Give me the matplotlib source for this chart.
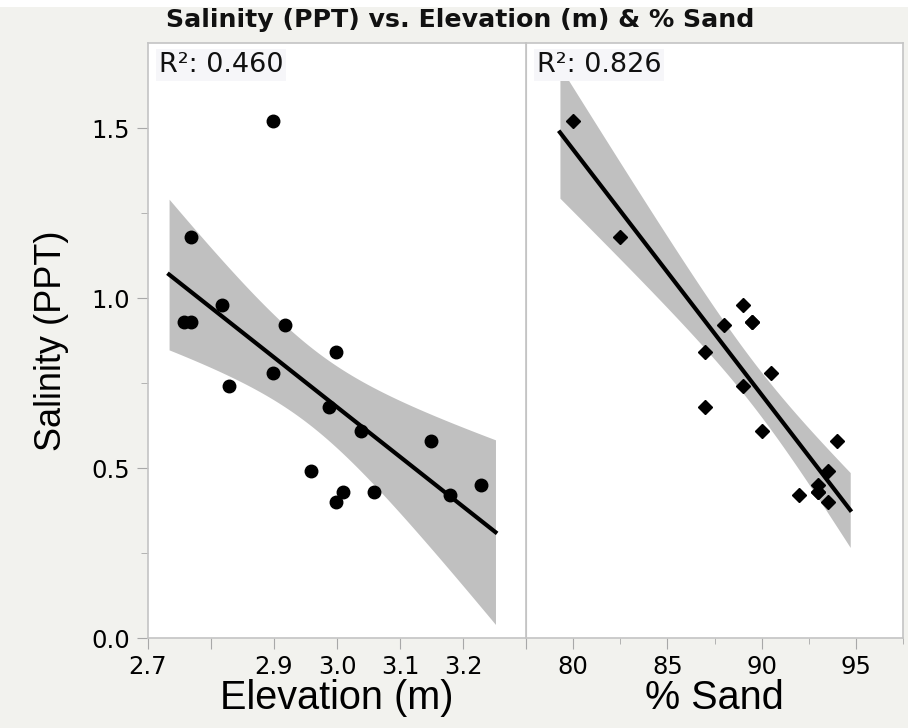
import numpy as np
import matplotlib
matplotlib.use("Agg")
import matplotlib.pyplot as plt
from matplotlib.patches import Rectangle

# --- data (one row per sample) ---
salinity = [1.52, 1.18, 0.98, 0.93, 0.93, 0.92, 0.84, 0.78, 0.74,
            0.68, 0.61, 0.58, 0.49, 0.45, 0.43, 0.43, 0.42, 0.40]
elevation = [2.898, 2.768, 2.818, 2.757, 2.768, 2.918, 2.999, 2.898, 2.828,
             2.988, 3.038, 3.149, 2.958, 3.228, 3.009, 3.059, 3.179, 2.999]
sand = [80.0, 82.5, 89.0, 89.5, 89.5, 88.0, 87.0, 90.5, 89.0,
        87.0, 90.0, 94.0, 93.5, 93.0, 93.0, 93.0, 92.0, 93.5]

r2_labels = ["R²: 0.460", "R²: 0.826"]
x_labels = ["Elevation (m)", "% Sand"]
elev_ticks = [2.7, 2.8, 2.9, 3.0, 3.1, 3.2, 3.3]
elev_ticklabels = ["2.7", "", "2.9", "3.0", "3.1", "3.2", ""]
sand_ticks = [80, 85, 90, 95]

T_CRIT = 2.1199  # t(0.975, df=16)
BG = "#f2f2ee"
BAND = "#c0c0c0"
FRAME = "#c4c4c4"
TICK = "#a8a8a8"

WIDE = ['DejaVu Sans']                   # JMP's Lucida-like labels
NARROW = ['Liberation Sans', 'DejaVu Sans']  # axis titles
plt.rcParams['font.family'] = WIDE


def fit_band(x, y, pad=0.05):
    """Least squares line plus 95% confidence band of the mean."""
    x = np.asarray(x, float)
    y = np.asarray(y, float)
    n = len(x)
    b, a = np.polyfit(x, y, 1)
    s = np.sqrt(np.sum((y - (a + b * x)) ** 2) / (n - 2))
    span = x.max() - x.min()
    xs = np.linspace(x.min() - pad * span, x.max() + pad * span, 200)
    ys = a + b * xs
    se = s * np.sqrt(1 / n + (xs - x.mean()) ** 2 / np.sum((x - x.mean()) ** 2))
    return xs, ys, T_CRIT * se


fig = plt.figure(figsize=(9.08, 7.28), dpi=100, facecolor=BG)
fig.patches.append(Rectangle((0, 1 - 7 / 728), 1, 7 / 728, transform=fig.transFigure,
                             facecolor="white", edgecolor="none", zorder=0))

ax1 = fig.add_axes([148 / 908, 90 / 728, 378 / 908, 595 / 728])
ax2 = fig.add_axes([526 / 908, 90 / 728, 377 / 908, 595 / 728])

panels = [(ax1, elevation, 'o', 9), (ax2, sand, 'D', 7.5)]
for i, (ax, xdata, mk, ms) in enumerate(panels):
    xs, ys, hw = fit_band(xdata, salinity)
    ax.fill_between(xs, ys - hw, ys + hw, color=BAND, lw=0, zorder=1)
    ax.plot(xs, ys, color="black", lw=3, zorder=2)
    ax.plot(xdata, salinity, mk, color="black", ms=ms, mec="black", zorder=3)
    ax.set_ylim(0, 1.75)
    ax.set_facecolor("white")
    for sp in ax.spines.values():
        sp.set_color(FRAME)
        sp.set_linewidth(1.2)
    ax.text(0.028, 0.985, r2_labels[i], transform=ax.transAxes, ha="left", va="top",
            fontsize=19.5, color="#111111",
            bbox=dict(facecolor="#f6f6f9", edgecolor="none", pad=2))
    ax.set_xlabel(x_labels[i], fontsize=28.5, labelpad=0, family=NARROW)
    ax.tick_params(axis="x", which="major", length=8, color=TICK,
                   labelsize=17.5, pad=4)
    ax.tick_params(axis="x", which="minor", length=4, color=TICK)

ax1.set_xlim(2.7, 3.3)
ax1.set_xticks(elev_ticks)
ax1.set_xticklabels(elev_ticklabels)
ax1.set_yticks([0.0, 0.5, 1.0, 1.5])
ax1.set_yticklabels(["0.0", "0.5", "1.0", "1.5"])
ax1.set_yticks([0.25, 0.75, 1.25], minor=True)
ax1.tick_params(axis="y", which="major", length=8, color=TICK, labelsize=17.5, pad=5)
ax1.tick_params(axis="y", which="minor", length=5, color=TICK)
ax1.set_ylabel("Salinity (PPT)", fontsize=26, labelpad=16, family=NARROW)

ax2.set_xlim(77.5, 97.5)
ax2.set_xticks(sand_ticks)
ax2.set_xticks([77.5, 82.5, 87.5, 92.5, 97.5], minor=True)
ax2.set_yticks([])
ax2.spines["left"].set_linewidth(0.8)

fig.text(460 / 908, 1 - 20 / 728, "Salinity (PPT) vs. Elevation (m) & % Sand",
         ha="center", va="center", fontsize=18.2, fontweight="bold", color="#111111")

fig.savefig("out.png", dpi=100, facecolor=fig.get_facecolor())
